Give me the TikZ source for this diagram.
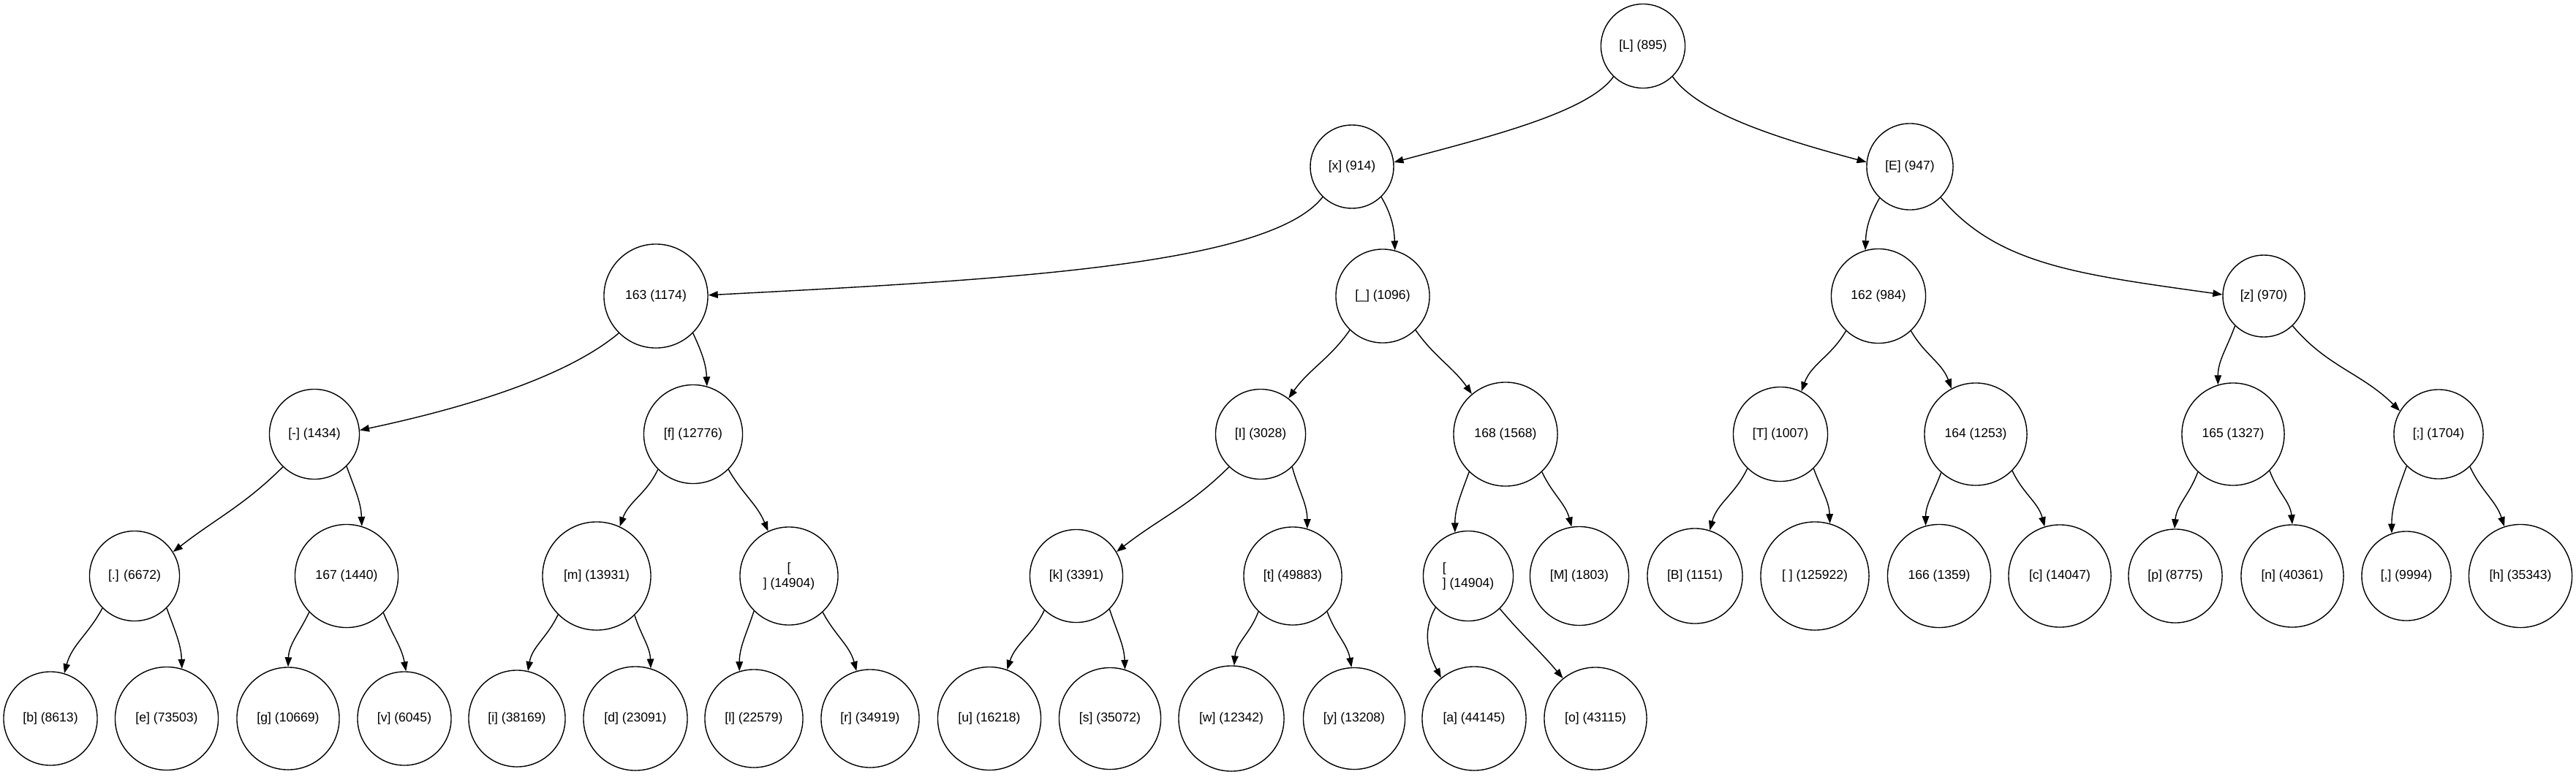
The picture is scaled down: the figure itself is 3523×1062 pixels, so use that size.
\documentclass[tikz,border=0pt]{standalone}
\usepackage{fontspec}
\setmainfont{Liberation Sans}
\usetikzlibrary{arrows.meta}

\begin{document}
\begin{tikzpicture}[x=0.01cm, y=0.01cm,
	tok/.style={circle, draw, inner sep=0pt, minimum size=#1cm, font=\fontsize{5}{6}\selectfont},
	edge/.style={-{Triangle[length=3.7pt,width=2.7pt]}}]
	\useasboundingbox (0,0) rectangle (3523,1062);
	% level 0 and 1
	\node[tok=1.15] (L) at (2247,999) {[L] (895)};
	\node[tok=1.14] (x) at (1849,834) {[x] (914)};
	\node[tok=1.18] (E) at (2612,834) {[E] (947)};
	% level 2
	\node[tok=1.42] (n163) at (897,657)  {163 (1174)};
	\node[tok=1.28] (us)   at (1891,657) {[\_] (1096)};
	\node[tok=1.29] (n162) at (2569,657) {162 (984)};
	\node[tok=1.12] (z)    at (3096,657) {[z] (970)};
	% level 3
	\node[tok=1.23] (dash) at (430,468)  {[-] (1434)};
	\node[tok=1.35] (f)    at (948,468)  {[f] (12776)};
	\node[tok=1.23] (I)    at (1724,468) {[I] (3028)};
	\node[tok=1.42] (n168) at (2059,468) {168 (1568)};
	\node[tok=1.29] (T)    at (2435,468) {[T] (1007)};
	\node[tok=1.40] (n164) at (2702,468) {164 (1253)};
	\node[tok=1.40] (n165) at (3054,468) {165 (1327)};
	\node[tok=1.22] (semi) at (3335,468) {[;] (1704)};
	% level 4
	\node[tok=1.23] (dot)   at (184,274)  {[.] (6672)};
	\node[tok=1.41] (n167)  at (474,274)  {167 (1440)};
	\node[tok=1.48] (m)     at (816,274)  {[m] (13931)};
	\node[tok=1.34, align=center] (nla) at (1079,274) {[\\] (14904)};
	\node[tok=1.27] (k)     at (1472,274) {[k] (3391)};
	\node[tok=1.34] (t)     at (1768,274) {[t] (49883)};
	\node[tok=1.23, align=left] (nlb) at (2008,274) {[\\] (14904)};
	\node[tok=1.35] (M)     at (2160,274) {[M] (1803)};
	\node[tok=1.30] (B)     at (2318,274) {[B] (1151)};
	\node[tok=1.48] (blank) at (2482,274) {[ ] (125922)};
	\node[tok=1.41] (n166)  at (2652,274) {166 (1359)};
	\node[tok=1.40] (c)     at (2817,274) {[c] (14047)};
	\node[tok=1.28] (p)     at (2975,274) {[p] (8775)};
	\node[tok=1.40] (n)     at (3135,274) {[n] (40361)};
	\node[tok=1.22] (comma) at (3291,274) {[,] (9994)};
	\node[tok=1.41] (h)     at (3447,274) {[h] (35343)};
	% level 5
	\node[tok=1.28] (b) at (69,79)   {[b] (8613)};
	\node[tok=1.41] (e) at (228,79)  {[e] (73503)};
	\node[tok=1.40] (g) at (394,79)  {[g] (10669)};
	\node[tok=1.28] (v) at (553,79)  {[v] (6045)};
	\node[tok=1.32] (i) at (707,79)  {[i] (38169)};
	\node[tok=1.42] (d) at (869,79)  {[d] (23091)};
	\node[tok=1.34] (l) at (1031,79) {[l] (22579)};
	\node[tok=1.34] (r) at (1190,79) {[r] (34919)};
	\node[tok=1.41] (u) at (1353,79) {[u] (16218)};
	\node[tok=1.39] (s) at (1518,79) {[s] (35072)};
	\node[tok=1.44] (w) at (1684,79) {[w] (12342)};
	\node[tok=1.39] (y) at (1852,79) {[y] (13208)};
	\node[tok=1.42] (a) at (2016,79) {[a] (44145)};
	\node[tok=1.40] (o) at (2182,79) {[o] (43115)};
	% long edges
	\draw[edge] (L.-134) .. controls +(-125:60) and +(15:130) .. (x.6);
	\draw[edge] (L.-46) .. controls +(-55:60) and +(165:130) .. (E.174);
	\draw[edge] (x.-134) .. controls +(-128:120) and +(3:400) .. (n163.1);
	\draw[edge] (E.-45) .. controls +(-50:120) and +(172:200) .. (z.178);
	\draw[edge] (n163.-135) .. controls +(-140:100) and +(12:130) .. (dash.5);
	% short edges
	\foreach \pn/\pa/\po/\cn/\ca/\ci in {x/-46/-60/us/75/92, E/-134/-120/n162/106/88,
		n163/-45/-65/f/74/92, us/-134/-125/I/52/55, us/-46/-55/n168/130/125,
		n162/-133/-120/T/64/70, n162/-47/-60/n164/118/110, z/-134/-110/n165/107/90,
		z/-46/-50/semi/149/135, dash/-134/-135/dot/32/38, dash/-45/-70/n167/73/92,
		f/-135/-115/m/65/70, f/-45/-60/nla/115/112, I/-134/-135/k/31/38,
		I/-46/-75/t/73/90, n168/-134/-110/nlb/107/90, n168/-46/-65/M/99/105,
		T/-134/-115/B/72/75, T/-46/-70/blank/74/92, n164/-132/-110/n166/105/90,
		n164/-45/-65/c/107/105, n165/-133/-110/p/91/85, n165/-45/-70/n/90/95,
		semi/-135/-110/comma/109/90, semi/-46/-65/h/108/108,
		dot/-135/-118/b/73/75, dot/-45/-70/e/73/92, n167/-136/-115/g/90/88,
		n167/-45/-68/v/88/100, m/-135/-115/i/77/80, m/-46/-72/d/73/92,
		nla/-135/-108/l/107/90, nla/-47/-62/r/106/105, k/-133/-115/u/70/72,
		k/-45/-72/s/73/92, t/-134/-110/w/87/85, t/-46/-70/y/93/100,
		nlb/-136/-120/a/129/118, nlb/-46/-50/o/129/130}
	\draw[edge] (\pn.\pa) to[out=\po, in=\ci] (\cn.\ca);
\end{tikzpicture}
\end{document}
